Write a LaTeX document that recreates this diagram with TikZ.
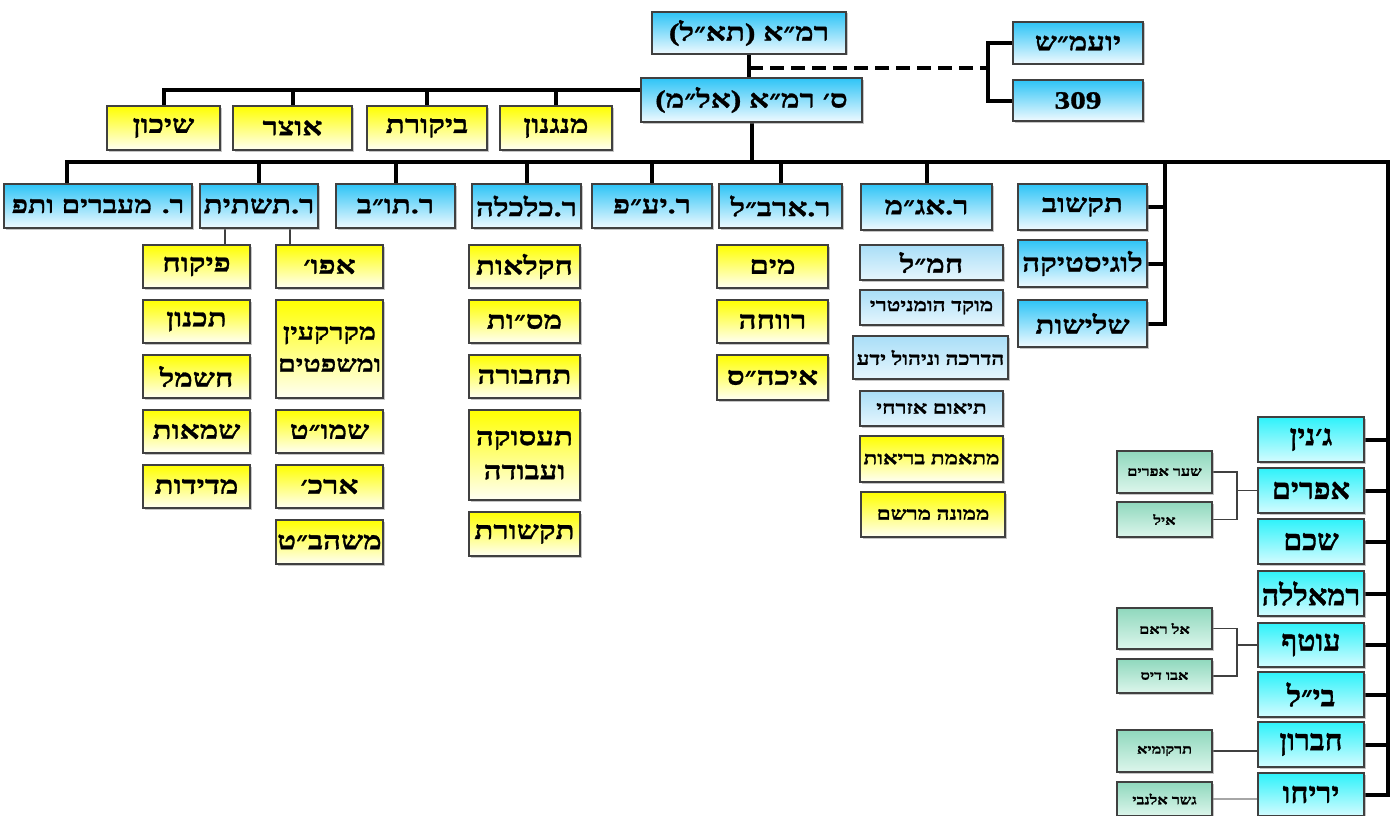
\documentclass[tikz,border=0pt]{standalone}
\usepackage{fontspec}
\usetikzlibrary{shadows}
\TeXXeTstate=1
\newfontfamily\hbA[Script=Hebrew,FakeStretch=1.25,FakeBold=1.2]{Liberation Serif}
\newfontfamily\hbB[Script=Hebrew,FakeStretch=1.05,FakeBold=1.2]{Liberation Serif}
\definecolor{bluT}{HTML}{2EC4F6}
\definecolor{bluB}{HTML}{F0FAFF}
\definecolor{lbT}{HTML}{A9DEF7}
\definecolor{lbB}{HTML}{E6F6FD}
\definecolor{yelT}{HTML}{FFFF00}
\definecolor{yelB}{HTML}{FFFFF4}
\definecolor{cyT}{HTML}{2EF2FA}
\definecolor{cyB}{HTML}{D4FCFF}
\definecolor{grT}{HTML}{8FD8BD}
\definecolor{grB}{HTML}{DDF6EC}
\pgfdeclarelayer{bg}
\pgfsetlayers{bg,main}
\newcommand\hbt[1]{\beginR #1\endR}
\newcommand\bx[7]{\node[#6,minimum width={(#4)-(#2)},minimum height={(#5)-(#3)}] (#1) at ({((#2)+(#4))/2},{((#3)+(#5))/2}) {#7};}
\tikzset{
  box/.style={draw=black!75,line width=1.3pt,inner sep=1pt,align=center,
    font=\hbA\bfseries\fontsize{25}{30}\selectfont,
    drop shadow={shadow xshift=1.5pt,shadow yshift=-1.5pt,fill=black!45,opacity=0.5}},
  blu/.style={box,top color=bluT,bottom color=bluB},
  lblu/.style={box,top color=lbT,bottom color=lbB},
  yel/.style={box,top color=yelT,bottom color=yelB},
  cyn/.style={box,top color=cyT,bottom color=cyB,font=\hbB\bfseries\fontsize{29}{32}\selectfont},
  grn/.style={box,top color=grT,bottom color=grB,font=\hbA\bfseries\fontsize{13}{15}\selectfont},
  sml/.style={font=\hbA\bfseries\fontsize{18}{20}\selectfont},
  topf/.style={font=\hbA\bfseries\fontsize{25}{27}\selectfont},
  rone/.style={font=\hbA\bfseries\fontsize{24}{27}\selectfont},
  mainln/.style={line width=4pt,black},
  dsh/.style={dash pattern=on 14pt off 7pt},
  thn/.style={line width=1.2pt,black!75}
}
\begin{document}
\begin{tikzpicture}[x=1pt,y=-1pt]
\useasboundingbox (0,0) rectangle (1397,816);
% top
\bx{T1}{652}{12}{846}{54}{blu,topf}{\hbt{רמ״א (תא״ל)}}
\bx{T2}{641}{78}{862}{122}{blu,topf}{\hbt{ס׳ רמ״א (אל״מ)}}
\bx{Y1}{1013}{22}{1143}{64}{blu,topf}{\hbt{יועמ״ש}}
\bx{Y2}{1013}{80}{1143}{121}{blu,topf}{309}
% row 1
\bx{S1}{107}{106}{220}{150}{yel}{\hbt{שיכון}}
\bx{S2}{233}{106}{352}{150}{yel}{\hbt{אוצר}}
\bx{S3}{367}{106}{487}{150}{yel}{\hbt{ביקורת}}
\bx{S4}{500}{106}{612}{150}{yel}{\hbt{מנגנון}}
% row 2
\bx{R1}{4}{184}{192}{228}{blu,rone}{\hbt{ר. מעברים ותפ}}
\bx{R2}{200}{184}{318}{228}{blu}{\hbt{ר.תשתית}}
\bx{R3}{336}{184}{455}{228}{blu}{\hbt{ר.תו״ב}}
\bx{R4}{472}{184}{581}{228}{blu}{\hbt{ר.כלכלה}}
\bx{R5}{592}{184}{712}{228}{blu}{\hbt{ר.יע״פ}}
\bx{R6}{719}{184}{842}{228}{blu}{\hbt{ר.ארב״ל}}
\bx{R7}{861}{184}{992}{230}{blu}{\hbt{ר.אג״מ}}
\bx{Q1}{1018}{184}{1147}{230}{blu}{\hbt{תקשוב}}
\bx{Q2}{1018}{240}{1147}{287}{blu}{\hbt{לוגיסטיקה}}
\bx{Q3}{1018}{300}{1147}{347}{blu}{\hbt{שלישות}}
% tashtit
\bx{P1}{143}{245}{250}{288}{yel}{\hbt{פיקוח}}
\bx{P2}{143}{300}{250}{343}{yel}{\hbt{תכנון}}
\bx{P3}{143}{355}{250}{398}{yel}{\hbt{חשמל}}
\bx{P4}{143}{410}{250}{453}{yel}{\hbt{שמאות}}
\bx{P5}{143}{465}{250}{508}{yel}{\hbt{מדידות}}
\bx{A1}{276}{245}{383}{288}{yel}{\hbt{אפו׳}}
\bx{A2}{276}{300}{383}{398}{yel,font=\hbA\bfseries\fontsize{23}{26}\selectfont}{\hbt{מקרקעין}\\[6pt]\hbt{ומשפטים}}
\bx{A3}{276}{410}{383}{453}{yel}{\hbt{שמו״ט}}
\bx{A4}{276}{465}{383}{508}{yel}{\hbt{ארכ׳}}
\bx{A5}{276}{520}{383}{564}{yel}{\hbt{משהב״ט}}
% kalkala
\bx{K1}{469}{245}{580}{288}{yel}{\hbt{חקלאות}}
\bx{K2}{469}{300}{580}{343}{yel}{\hbt{מס״ות}}
\bx{K3}{469}{355}{580}{398}{yel}{\hbt{תחבורה}}
\bx{K4}{469}{410}{580}{500}{yel}{\hbt{תעסוקה}\\[4pt]\hbt{ועבודה}}
\bx{K5}{469}{512}{580}{556}{yel}{\hbt{תקשורת}}
% arbal
\bx{W1}{717}{245}{828}{288}{yel}{\hbt{מים}}
\bx{W2}{717}{300}{828}{343}{yel}{\hbt{רווחה}}
\bx{W3}{717}{355}{828}{400}{yel}{\hbt{איכה״ס}}
% agam
\bx{M1}{860}{245}{1003}{280}{lblu}{\hbt{חמ״ל}}
\bx{M2}{860}{290}{1003}{325}{lblu,sml}{\hbt{מוקד הומניטרי}}
\bx{M3}{853}{336}{1008}{379}{lblu,sml}{\hbt{הדרכה וניהול ידע}}
\bx{M4}{860}{391}{1003}{426}{lblu,sml}{\hbt{תיאום אזרחי}}
\bx{M5}{860}{436}{1003}{482}{yel,sml}{\hbt{מתאמת בריאות}}
\bx{M6}{861}{492}{1005}{537}{yel,sml}{\hbt{ממונה מרשם}}
% districts
\bx{J1}{1258}{417}{1364}{462}{cyn}{\hbt{ג׳נין}}
\bx{J2}{1258}{468}{1364}{513}{cyn}{\hbt{אפרים}}
\bx{J3}{1258}{519}{1364}{564}{cyn}{\hbt{שכם}}
\bx{J4}{1258}{571}{1364}{616}{cyn}{\hbt{רמאללה}}
\bx{J5}{1258}{623}{1364}{667}{cyn}{\hbt{עוטף}}
\bx{J6}{1258}{672}{1364}{717}{cyn}{\hbt{בי״ל}}
\bx{J7}{1258}{722}{1364}{767}{cyn}{\hbt{חברון}}
\bx{J8}{1258}{773}{1364}{816}{cyn}{\hbt{יריחו}}
\bx{G1}{1117}{451}{1212}{493}{grn}{\hbt{שער אפרים}}
\bx{G2}{1117}{502}{1212}{537}{grn}{\hbt{איל}}
\bx{G3}{1117}{608}{1212}{649}{grn}{\hbt{אל ראם}}
\bx{G4}{1117}{659}{1212}{693}{grn}{\hbt{אבו דיס}}
\bx{G5}{1117}{730}{1212}{772}{grn}{\hbt{תרקומיא}}
\bx{G6}{1117}{782}{1212}{816}{grn}{\hbt{גשר אלנבי}}
% helper coordinates
\coordinate (r1) at (0,90);
\coordinate (r2) at (0,162);
\coordinate (dy) at (0,68);
\coordinate (x67) at (67,0);
\coordinate (xr) at (1388,0);
\coordinate (xq) at (1165,0);
\coordinate (xd) at (988,0);
\coordinate (xt1) at (225,0);
\coordinate (xt2) at (290,0);
\coordinate (xb) at (1237,0);
\begin{pgfonlayer}{bg}
\fill[white] (0,0) rectangle (1397,816);
\draw[mainln] (T1.south) -- (T1.south |- T2.north);
\draw[mainln,dsh] (T1.south |- dy) -- (xd |- dy);
\draw[mainln] (Y1.west) -| (xd |- Y2.west) -- (Y2.west);
\draw[mainln] (S1.north) |- (T2.west |- r1);
\foreach \n in {S2,S3,S4} \draw[mainln] (\n.north) -- (\n.north |- r1);
\draw[mainln] (T2.south) -- (T2.south |- r2);
\draw[mainln] (R1.north -| x67) |- (xr |- r2) -- (xr |- J8.east) -- (J8.east);
\foreach \n in {R2,R3,R4,R5,R6,R7} \draw[mainln] (\n.north) -- (\n.north |- r2);
\draw[mainln] (xq |- r2) -- (xq |- Q3.east) -- (Q3.east);
\foreach \n in {Q1,Q2} \draw[mainln] (\n.east) -- (\n.east -| xq);
\foreach \n in {J1,J2,J3,J4,J5,J6,J7} \draw[mainln] (\n.east) -- (\n.east -| xr);
\draw[thn] (R2.south -| xt1) -- (P1.north -| xt1);
\draw[thn] (R2.south -| xt2) -- (A1.north -| xt2);
\draw[thn] (G1.east) -| (xb |- G2.east) -- (G2.east);
\draw[thn] (xb |- J2.west) -- (J2.west);
\draw[thn] (G3.east) -| (xb |- G4.east) -- (G4.east);
\draw[thn] (xb |- J5.west) -- (J5.west);
\draw[thn] (G5.east) -- (G5.east -| J7.west);
\draw[thn,black!35] (G6.east) -- (G6.east -| J8.west);
\end{pgfonlayer}
\end{tikzpicture}
\end{document}
